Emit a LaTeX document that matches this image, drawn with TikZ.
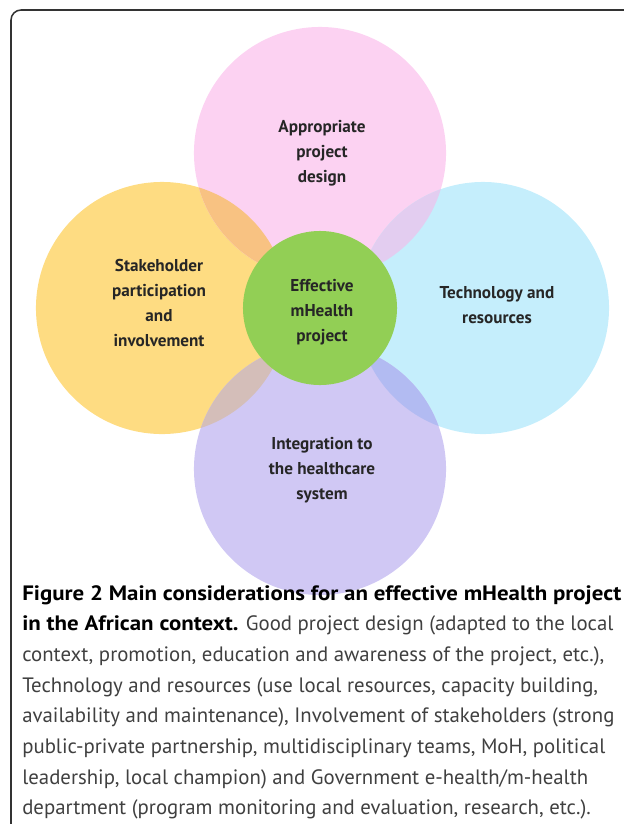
\documentclass[tikz,border=0pt]{standalone}
\usepackage{fontspec}
\setmainfont{PT Sans}[BoldFeatures={FakeStretch=1.1}]
\newfontfamily\labelfont{PT Sans}
\usetikzlibrary{positioning}
\definecolor{framegray}{HTML}{333333}
\definecolor{labelgray}{HTML}{262626}
\definecolor{captiongray}{HTML}{404040}
\definecolor{pinkfill}{HTML}{FCD2F2}
\definecolor{yellowfill}{HTML}{FEDC82}
\definecolor{bluefill}{HTML}{C5EEFC}
\definecolor{purplefill}{HTML}{D0C8F4}
\definecolor{greenfill}{HTML}{92CF55}
\definecolor{orangelens}{HTML}{F8C282}
\definecolor{lilaclens}{HTML}{E3CDF0}
\definecolor{brownlens}{HTML}{D4BEB9}
\definecolor{bluelens}{HTML}{B2BBF2}
\tikzset{
  bubble/.style={circle,minimum size=6.3cm,inner sep=0pt},
  bubbletext/.style={align=center,text=labelgray,font=\labelfont\bfseries\fontsize{12.2}{17.8}\selectfont}
}
\begin{document}
\begin{tikzpicture}[x=0.025cm,y=-0.025cm]
  \useasboundingbox (0,0) rectangle (624,824);
  %Frame
  \draw[line width=1.1pt,framegray,rounded corners=0.25cm] (640,10) -- (11,10) -- (11,840);
  %Outer circles
  \node[bubble,fill=yellowfill] (stake) at (162,308) {};
  \node[bubble,fill=pinkfill] (design) at (320,153) {};
  \node[bubble,fill=bluefill] (tech) at (483,308) {};
  \node[bubble,fill=purplefill] (integ) at (320,469) {};
  %Overlaps
  \begin{scope}
    \clip (stake.center) circle (3.15cm);
    \fill[orangelens] (design.center) circle (3.15cm);
  \end{scope}
  \begin{scope}
    \clip (design.center) circle (3.15cm);
    \fill[lilaclens] (tech.center) circle (3.15cm);
  \end{scope}
  \begin{scope}
    \clip (stake.center) circle (3.15cm);
    \fill[brownlens] (integ.center) circle (3.15cm);
  \end{scope}
  \begin{scope}
    \clip (tech.center) circle (3.15cm);
    \fill[bluelens] (integ.center) circle (3.15cm);
  \end{scope}
  %Centre circle
  \node[circle,minimum size=3.85cm,inner sep=0pt,fill=greenfill] (core) at (320,308) {};
  %Labels
  \node[bubbletext] (designtxt) at (322,153) {Appropriate\\project\\design};
  \node[bubbletext] (staketxt) at (159,303) {Stakeholder\\participation\\and\\involvement};
  \node[bubbletext] (techtxt) at (497,305) {Technology and\\resources};
  \node[bubbletext] (integtxt) at (322,470) {Integration to\\the healthcare\\system};
  \node[bubbletext] (coretxt) at (322,312) {Effective\\mHealth\\project};
  %Caption
  \node[anchor=north west,inner sep=0pt,align=left,text=captiongray,
        font=\fontsize{14.8}{21.8}\selectfont] (caption) at (22,585)
  {\textbf{\color{black}Figure 2 Main considerations for an effective mHealth project}\\
   \textbf{\color{black}in the African context.} Good project design (adapted to the local\\
   context, promotion, education and awareness of the project, etc.),\\
   Technology and resources (use local resources, capacity building,\\
   availability and maintenance), Involvement of stakeholders (strong\\
   public-private partnership, multidisciplinary teams, MoH, political\\
   leadership, local champion) and Government e-health/m-health\\
   department (program monitoring and evaluation, research, etc.).};
\end{tikzpicture}
\end{document}
